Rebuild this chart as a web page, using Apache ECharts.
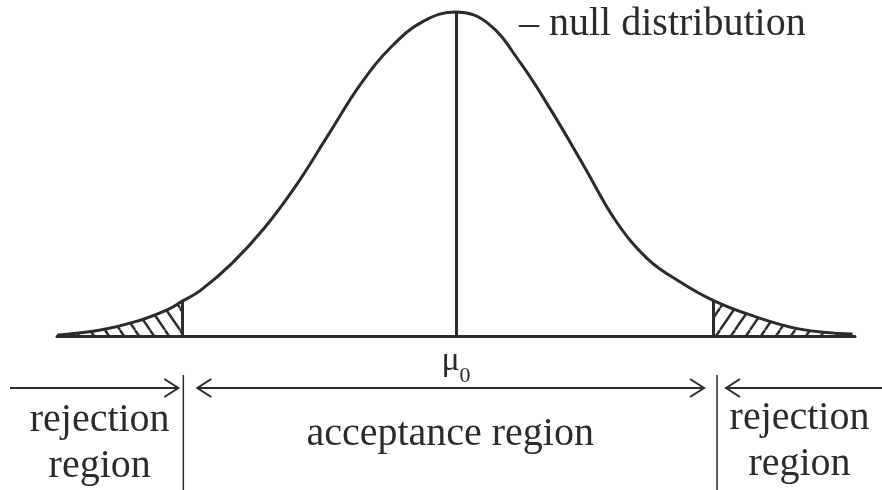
<!DOCTYPE html>
<html><head><meta charset="utf-8">
<script src="https://cdn.jsdelivr.net/npm/echarts@6/dist/echarts.min.js"></script>
<style>html,body{margin:0;padding:0;background:#fff}#c{width:882px;height:490px}</style>
</head><body><div id="c"></div>
<script>
// Curve points (x in standard-deviation units from mu0, y = density)
const curveX = [-3.12, -2.78, -2.50, -2.25, -2.14, -2.00, -1.75, -1.50, -1.25, -1.00, -0.75, -0.50, -0.25, 0, 0.25, 0.50, 0.75, 1.00, 1.25, 1.50, 1.75, 2.01, 2.30, 2.69, 3.10];
const curveY = [0.001, 0.0074, 0.018, 0.033, 0.043, 0.056, 0.090, 0.133, 0.186, 0.248, 0.310, 0.358, 0.389, 0.400, 0.386, 0.338, 0.277, 0.210, 0.142, 0.095, 0.067, 0.044, 0.026, 0.0085, 0.0025];
const critValues = [-2.14, 2.01];
const critHeights = [0.043, 0.044];
const meanValue = 0;
const peakHeight = 0.4;
const axisTicks = ['μ0'];
const legendText = '– null distribution';
const regionLabels = ['rejection\nregion', 'acceptance region', 'rejection\nregion'];

const INK = '#2b2b2b';
const FONT = 'Liberation Serif';

function hatch(dir) {
  const w = 15, h = 22;
  const c = document.createElement('canvas');
  c.width = w; c.height = h;
  const g = c.getContext('2d');
  g.strokeStyle = INK; g.lineWidth = 2.4;
  for (const o of [-w, 0, w]) {
    g.beginPath();
    if (dir === 'back') { g.moveTo(o, 0); g.lineTo(o + w, h); }
    else { g.moveTo(o, h); g.lineTo(o + w, 0); }
    g.stroke();
  }
  return c;
}

const curve = curveX.map((x, i) => [x, curveY[i]]);
const leftTail = curve.filter(p => p[0] <= critValues[0] + 1e-9);
const rightTail = curve.filter(p => p[0] >= critValues[1] - 1e-9);
const SMOOTH = 0.4;

const chart = echarts.init(document.getElementById('c'), null, {renderer: 'canvas'});
chart.setOption({
  animation: false,
  backgroundColor: '#fff',
  grid: {left: 57, right: 27, top: 12, bottom: 154},
  xAxis: {
    type: 'value', min: -3.12, max: 3.12, interval: 3.12,
    axisLine: {show: true, onZero: false, lineStyle: {color: INK, width: 3}},
    axisTick: {show: false}, splitLine: {show: false},
    axisLabel: {
      margin: 0, showMinLabel: false, showMaxLabel: false,
      formatter: v => Math.abs(v - meanValue) < 1e-6 ? '{a|μ}{b|0}' : '',
      rich: {
        a: {fontFamily: FONT, fontSize: 34, color: INK},
        b: {fontFamily: FONT, fontSize: 22, color: INK, verticalAlign: 'bottom', padding: [29, 0, 0, 0]}
      }
    }
  },
  yAxis: {type: 'value', min: 0, max: 0.4, show: false, splitLine: {show: false}},
  series: [
    {
      type: 'line', data: leftTail, smooth: SMOOTH, showSymbol: false, silent: true, clip: false,
      lineStyle: {width: 0, opacity: 0},
      areaStyle: {color: {image: hatch('back'), repeat: 'repeat'}, opacity: 1}
    },
    {
      type: 'line', data: rightTail, smooth: SMOOTH, showSymbol: false, silent: true, clip: false,
      lineStyle: {width: 0, opacity: 0},
      areaStyle: {color: {image: hatch('fwd'), repeat: 'repeat'}, opacity: 1}
    },
    {
      type: 'line', data: curve, smooth: SMOOTH, showSymbol: false, silent: true, clip: false,
      lineStyle: {color: INK, width: 3},
      markLine: {
        silent: true, symbol: 'none', label: {show: false},
        data: [
          [{coord: [meanValue, 0]}, {coord: [meanValue, peakHeight]}],
          [{coord: [critValues[0], 0]}, {coord: [critValues[0], critHeights[0]]}],
          [{coord: [critValues[1], 0]}, {coord: [critValues[1], critHeights[1]]}]
        ],
        lineStyle: {color: INK, width: 3, type: 'solid'}
      }
    }
  ]
});

const pL = chart.convertToPixel({xAxisIndex: 0}, critValues[0]);
const pR = chart.convertToPixel({xAxisIndex: 0}, critValues[1]);
const ay = 388;
const line = (x1, y1, x2, y2, w) => ({type: 'line', shape: {x1, y1, x2, y2}, style: {stroke: INK, lineWidth: w || 2}});
const head = (x, dir) => ({type: 'polyline', shape: {points: [[x - dir * 14, ay - 9], [x, ay], [x - dir * 14, ay + 9]]}, style: {stroke: INK, lineWidth: 2, fill: null}});
const text = (t, x, y, opt) => ({type: 'text', x, y, style: Object.assign({text: t, font: '40px "' + FONT + '"', fill: INK, align: 'center', verticalAlign: 'middle', lineHeight: 46}, opt || {})});
const dL = pL + 1, dR = pR + 4;
chart.setOption({
  graphic: [
    line(10, ay, dL - 5, ay), head(dL - 5, 1),
    line(dL, 375, dL, 490, 1.5),
    line(dL + 14, ay, dR - 13, ay), head(dL + 14, -1), head(dR - 13, 1),
    line(dR, 375, dR, 490, 1.5),
    line(dR + 9, ay, 882, ay), head(dR + 9, -1),
    text(regionLabels[0], (0 + dL) / 2 + 8, 443),
    text(regionLabels[1], (dL + dR) / 2, 434),
    text(regionLabels[2], (dR + 882) / 2, 441),
    {type: 'text', x: 519, y: 24, style: {text: legendText, font: '40px "' + FONT + '"', fill: INK, align: 'left', verticalAlign: 'middle'}}
  ]
});
</script>
</body></html>
